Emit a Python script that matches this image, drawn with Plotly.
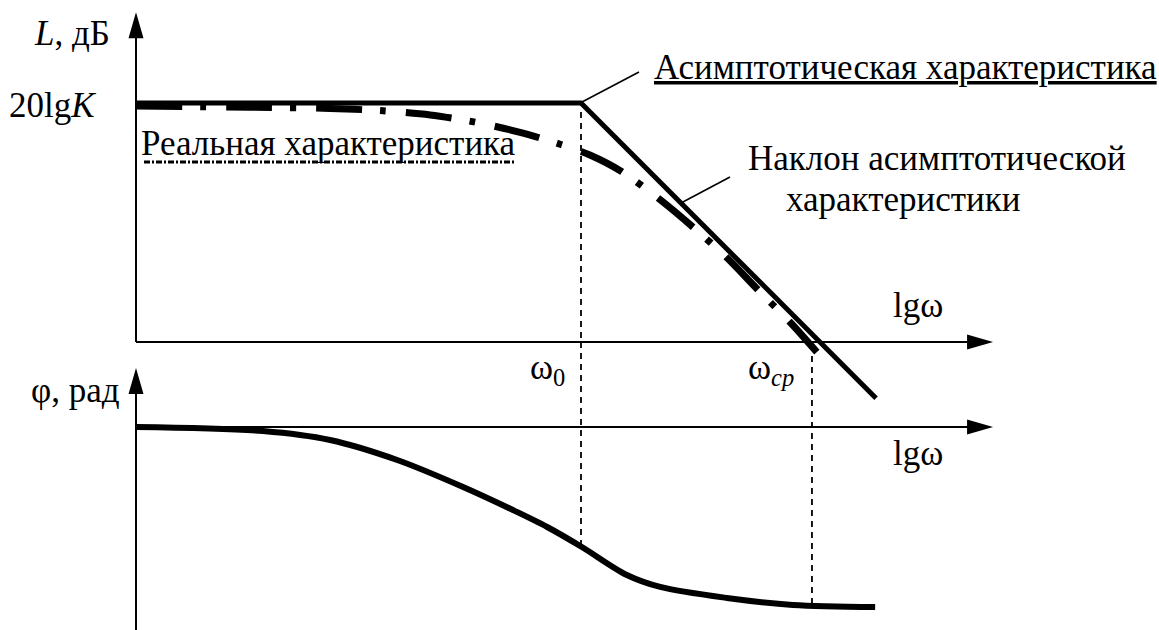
import numpy as np
import plotly.graph_objects as go

# ---------------- data ----------------
# frequency axis in lg(omega), amplitude in dB, phase in rad
L_K = 40.0                 # 20lgK level
LG_W0 = 1.0                # corner frequency omega_0
LG_WCP = 1.519             # crossover frequency omega_cp

asym_lgw = [0.0, 1.0, 1.663]
asym_L = [40.0, 40.0, -9.4]

real_lgw = [0.0, 0.256, 0.436, 0.555, 0.661, 0.762, 0.863, 0.953, 1.020,
            1.092, 1.178, 1.252, 1.328, 1.398, 1.470, 1.530]
real_L = [39.5, 39.3, 39.1, 38.7, 38.0, 36.8, 35.1, 33.1, 31.3,
          28.5, 23.8, 19.2, 14.1, 8.7, 3.3, -1.7]

phase_lgw = [0.0, 0.285, 0.436, 0.587, 0.735, 0.847, 0.924, 1.002, 1.103,
             1.178, 1.328, 1.476, 1.661]
phase_phi = [0.0, -0.07, -0.227, -0.576, -1.047, -1.449, -1.745, -2.094,
             -2.583, -2.792, -2.984, -3.106, -3.142]

# ---------------- frame ----------------
W, H = 1159, 630
X0_PX, X_SCALE = 136, 445.0          # px of lgw=0, px per decade
L0_PX, L_SCALE = 342, 5.975          # px of 0 dB, px per dB
P0_PX, P_SCALE = 427, 180 / np.pi    # px of 0 rad, px per rad

X_END = 1.926      # end of the frequency axes
L_TOP = 55.2       # tip of the amplitude axis
P_TOP = 1.03       # tip of the phase axis


def px_x(px):
    return (px - X0_PX) / X_SCALE


def px_l(py):
    return (L0_PX - py) / L_SCALE


def px_p(py):
    return (P0_PX - py) / P_SCALE


def l_to_phi(L):
    return px_p(L0_PX - L * L_SCALE)


FONT = "Liberation Serif"
FS = 35
BLACK = "#000000"

fig = go.Figure()

# real (measured) characteristic, dash-dot
fig.add_trace(go.Scatter(
    x=real_lgw, y=real_L, mode="lines", yaxis="y",
    line=dict(color=BLACK, width=7, dash="46px,18px,6px,20px", shape="spline", smoothing=0.8),
    hoverinfo="skip", showlegend=False))

# asymptotic characteristic
fig.add_trace(go.Scatter(
    x=asym_lgw, y=asym_L, mode="lines", yaxis="y",
    line=dict(color=BLACK, width=5),
    hoverinfo="skip", showlegend=False))

# phase characteristic
fig.add_trace(go.Scatter(
    x=phase_lgw, y=phase_phi, mode="lines", yaxis="y2",
    line=dict(color=BLACK, width=6, shape="spline", smoothing=0.9),
    hoverinfo="skip", showlegend=False))

shapes = []
AX = dict(color=BLACK, width=2)

# amplitude axes
shapes.append(dict(type="line", xref="x", yref="y", x0=0, x1=0, y0=0, y1=L_TOP - 3, line=AX))
shapes.append(dict(type="line", xref="x", yref="y", x0=0, x1=X_END - 0.03, y0=0, y1=0, line=AX))
# phase axes
shapes.append(dict(type="line", xref="x", yref="y2", x0=0, x1=0, y0=-4.0, y1=P_TOP - 0.3, line=AX))
shapes.append(dict(type="line", xref="x", yref="y2", x0=0, x1=X_END - 0.03, y0=0, y1=0, line=AX))

# arrowheads
UP = "M0,0 L-7.5,-26 L7.5,-26 Z"
RIGHT = "M0,0 L-26,7.5 L-26,-7.5 Z"
for yref, ytip in (("y", L_TOP), ("y2", P_TOP)):
    shapes.append(dict(type="path", xref="x", yref=yref, xsizemode="pixel", ysizemode="pixel",
                       xanchor=0, yanchor=ytip, path=UP, fillcolor=BLACK, line=dict(width=0)))
for yref in ("y", "y2"):
    shapes.append(dict(type="path", xref="x", yref=yref, xsizemode="pixel", ysizemode="pixel",
                       xanchor=X_END, yanchor=0, path=RIGHT, fillcolor=BLACK, line=dict(width=0)))

# guide lines at omega_0 and omega_cp
GUIDE = dict(color=BLACK, width=1.8, dash="6px,5px")
phi_w0 = float(np.interp(LG_W0, phase_lgw, phase_phi))
phi_wcp = float(np.interp(LG_WCP, phase_lgw, phase_phi))
shapes.append(dict(type="line", xref="x", yref="y", x0=LG_W0, x1=LG_W0, y0=L_K - 1.5, y1=0, line=GUIDE))
shapes.append(dict(type="line", xref="x", yref="y2", x0=LG_W0, x1=LG_W0,
                   y0=l_to_phi(0), y1=phi_w0, line=GUIDE))
shapes.append(dict(type="line", xref="x", yref="y2", x0=LG_WCP, x1=LG_WCP,
                   y0=l_to_phi(-0.5), y1=phi_wcp, line=GUIDE))

# leader lines to captions
LEAD = dict(color=BLACK, width=1.6)
shapes.append(dict(type="line", xref="x", yref="y", x0=px_x(582), y0=px_l(102),
                   x1=px_x(639), y1=px_l(72), line=LEAD))
shapes.append(dict(type="line", xref="x", yref="y", x0=px_x(681), y0=px_l(203),
                   x1=px_x(730), y1=px_l(177), line=LEAD))

# dash-dot sample under the "real" caption
shapes.append(dict(type="line", xref="x", yref="y", x0=px_x(144), x1=px_x(515),
                   y0=px_l(162), y1=px_l(162),
                   line=dict(color=BLACK, width=3, dash="6px,2px,2px,2px")))

annotations = []


def label(text, px, py, xanchor="left"):
    annotations.append(dict(text=text, x=px_x(px), y=px_l(py), xref="x", yref="y",
                            xanchor=xanchor, yanchor="middle", showarrow=False,
                            font=dict(family=FONT, size=FS, color=BLACK)))


label("<i>L</i>, дБ", 112, 33, "right")
label("20lg<i>K</i>", 7, 105)
label("Реальная характеристика", 139, 143)
label("<u>Асимптотическая характеристика</u>", 652, 67)
label("Наклон асимптотической", 746, 158)
label("характеристики", 784, 199.5)
label("lgω", 891, 305)
label("lgω", 891, 453)
label("ω<sub>0</sub>", 528, 369)
label("ω<sub><i>ср</i></sub>", 746, 369)
label("φ, рад", 122, 390, "right")

fig.update_layout(
    width=W, height=H,
    margin=dict(l=0, r=0, t=0, b=0),
    paper_bgcolor="white", plot_bgcolor="white",
    xaxis=dict(range=[px_x(0), px_x(W)], visible=False, fixedrange=True),
    yaxis=dict(range=[px_l(H), px_l(0)], visible=False, fixedrange=True, domain=[0, 1]),
    yaxis2=dict(range=[px_p(H), px_p(0)], visible=False, fixedrange=True,
                overlaying="y", domain=[0, 1]),
    shapes=shapes,
    annotations=annotations,
    showlegend=False,
)

fig.write_html("out.html")
